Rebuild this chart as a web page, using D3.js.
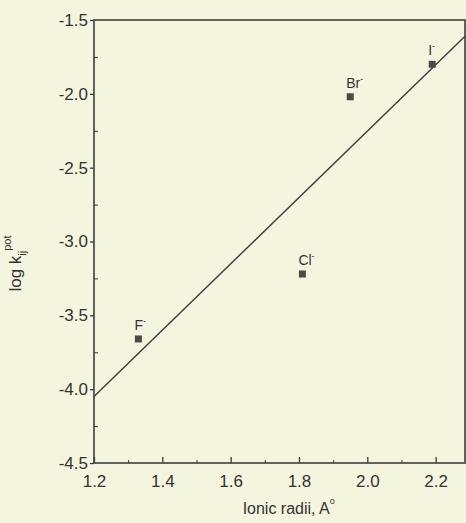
<!DOCTYPE html>
<html>
<head>
<meta charset="utf-8">
<script src="https://cdn.jsdelivr.net/npm/d3@7"></script>
<style>
  body { margin: 0; background: #f3f5df; }
  svg { display: block; font-family: "Liberation Sans", Arial, sans-serif; }
</style>
</head>
<body>
<div id="chart"></div>
<script>
// ion data
const ions = ["F", "Cl", "Br", "I"];
const radii = [1.33, 1.81, 1.95, 2.19];
const logK = [-3.66, -3.22, -2.02, -1.80];

// fitted line end points
const fitX = [1.2, 2.286];
const fitY = [-4.05, -1.61];

const xTicks = [1.2, 1.4, 1.6, 1.8, 2.0, 2.2];
const yTicks = [-4.5, -4.0, -3.5, -3.0, -2.5, -2.0, -1.5];

const width = 466, height = 523;
const margin = {top: 20, right: 1, bottom: 60, left: 94};
const ink = "#3c3c3c";

const svg = d3.select("#chart").append("svg")
    .attr("width", width)
    .attr("height", height);

const x = d3.scaleLinear()
    .domain([1.2, 2.286])
    .range([margin.left, width - margin.right]);

const y = d3.scaleLinear()
    .domain([-4.5, -1.5])
    .range([height - margin.bottom, margin.top]);

// frame
svg.append("rect")
    .attr("x", x(1.2)).attr("y", y(-1.5))
    .attr("width", x(2.286) - x(1.2))
    .attr("height", y(-4.5) - y(-1.5))
    .attr("fill", "none")
    .attr("stroke", ink)
    .attr("stroke-width", 1.6);

// minor ticks (inward)
const xMinor = d3.range(1.3, 2.29, 0.2);
const yMinor = d3.range(-4.25, -1.5, 0.5);

const xAxis = d3.axisBottom(x).tickValues(xTicks).tickSizeInner(-6).tickSizeOuter(0)
    .tickPadding(12).tickFormat(d3.format(".1f"));
const gx = svg.append("g").attr("transform", `translate(0,${y(-4.5)})`).call(xAxis);
gx.select(".domain").remove();
gx.selectAll("line").attr("stroke", ink).attr("stroke-width", 1.3);
gx.selectAll("text").attr("font-size", 17).attr("fill", "#333");

svg.append("g").attr("transform", `translate(0,${y(-4.5)})`)
    .call(d3.axisBottom(x).tickValues(xMinor).tickSize(-3).tickFormat(""))
    .call(g => g.select(".domain").remove())
    .selectAll("line").attr("stroke", ink);

const yAxis = d3.axisLeft(y).tickValues(yTicks).tickSizeInner(4).tickSizeOuter(0)
    .tickPadding(2).tickFormat(d3.format(".1f"));
const gy = svg.append("g").attr("transform", `translate(${x(1.2)},0)`).call(yAxis);
gy.select(".domain").remove();
gy.selectAll("line").attr("stroke", ink).attr("stroke-width", 1.3);
gy.selectAll("text").attr("font-size", 17).attr("fill", "#333")
    .text(d => d3.format(".1f")(d).replace("−", "-"));

svg.append("g").attr("transform", `translate(${x(1.2)},0)`)
    .call(d3.axisRight(y).tickValues(yMinor).tickSize(4).tickFormat(""))
    .call(g => g.select(".domain").remove())
    .selectAll("line").attr("stroke", ink);

// fitted line
svg.append("line")
    .attr("x1", x(fitX[0])).attr("y1", y(fitY[0]))
    .attr("x2", x(fitX[1])).attr("y2", y(fitY[1]))
    .attr("stroke", ink)
    .attr("stroke-width", 1.4);

// points
const pts = ions.map((name, i) => ({name, r: radii[i], k: logK[i]}));

svg.selectAll("rect.pt")
    .data(pts)
    .enter()
    .append("rect")
    .attr("class", "pt")
    .attr("x", d => x(d.r) - 3.5)
    .attr("y", d => y(d.k) - 3.5)
    .attr("width", 7)
    .attr("height", 7)
    .attr("fill", "#4a4a4a");

const lab = svg.selectAll("text.lab")
    .data(pts)
    .enter()
    .append("text")
    .attr("class", "lab")
    .attr("x", d => x(d.r) - 4)
    .attr("y", d => y(d.k) - 9)
    .attr("font-size", 14)
    .attr("fill", "#333");
lab.append("tspan").text(d => d.name);
lab.append("tspan").attr("dy", -6).attr("font-size", 9).text("-");

// axis titles
const yl = svg.append("text")
    .attr("transform", `translate(21,${y(-3.0) + 22}) rotate(-90)`)
    .attr("text-anchor", "middle")
    .attr("font-size", 17)
    .attr("fill", "#333");
yl.append("tspan").text("log k");
yl.append("tspan").attr("dy", 5).attr("font-size", 11).text("ij");
yl.append("tspan").attr("dy", -15).attr("font-size", 11).text("pot");

const xl = svg.append("text")
    .attr("x", x(1.77))
    .attr("y", 514)
    .attr("text-anchor", "middle")
    .attr("font-size", 16)
    .attr("fill", "#333");
xl.append("tspan").text("Ionic radii, A");
xl.append("tspan").attr("dy", -10).attr("dx", 0).attr("font-size", 9).text("o");
</script>
</body>
</html>
